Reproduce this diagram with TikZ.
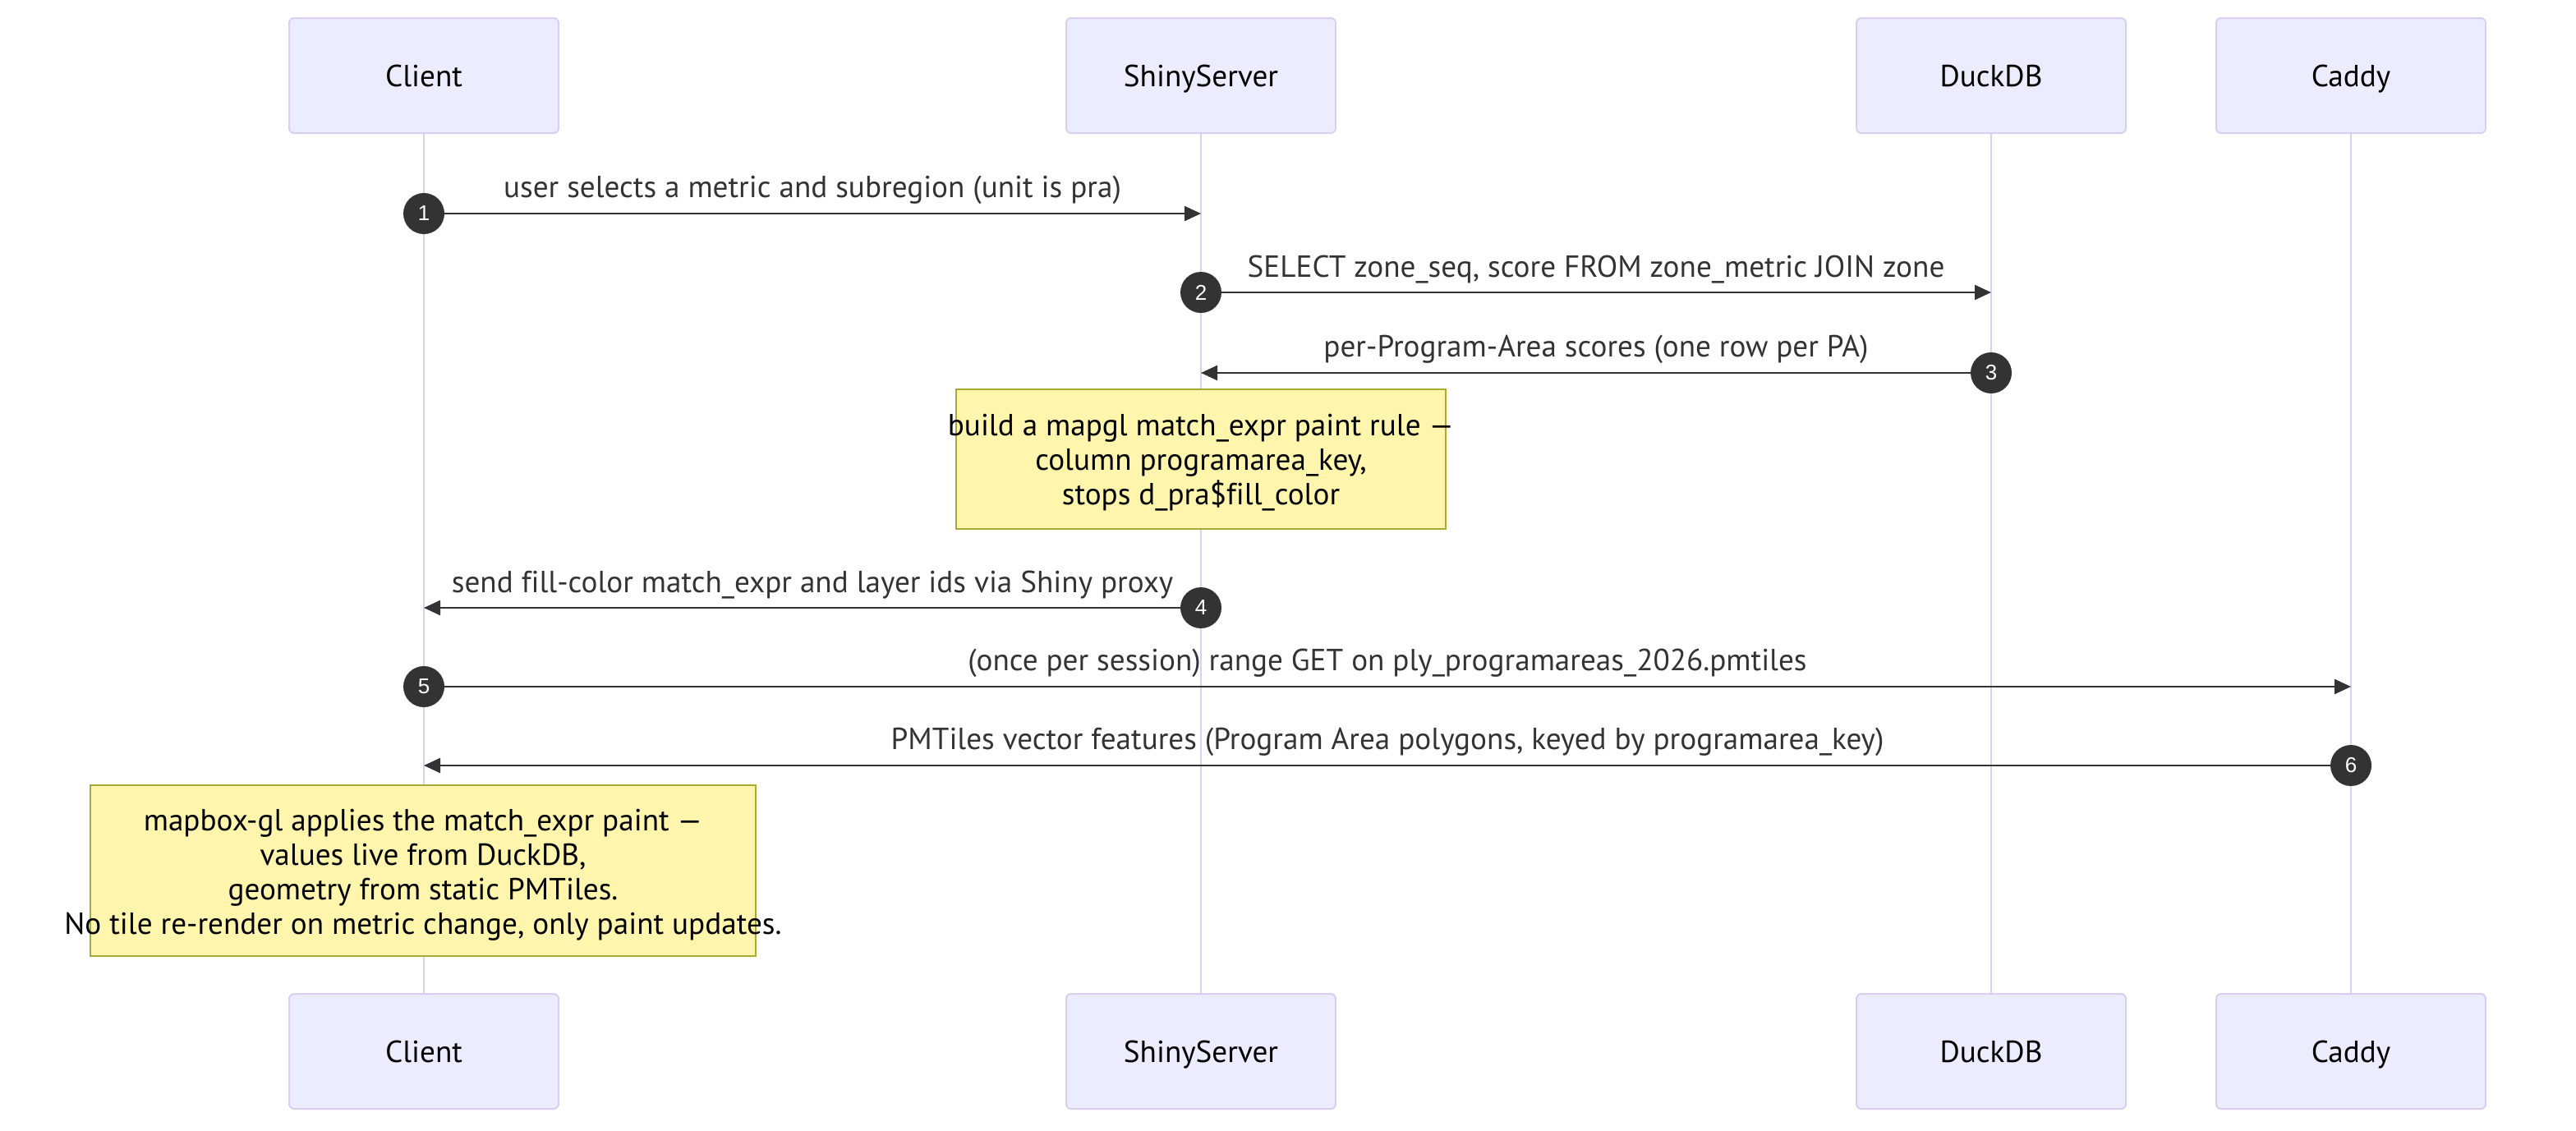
\documentclass[tikz,border=0pt]{standalone}
\usepackage{fontspec}
\setmainfont{PT Sans}[Ligatures=NoCommon]
\newfontfamily\numfont{Liberation Sans}
\usetikzlibrary{arrows.meta, calc}
\definecolor{actorfill}{HTML}{ECECFF}
\definecolor{actorline}{HTML}{D8CFF2}
\definecolor{notefill}{HTML}{FFF5AD}
\definecolor{noteline}{HTML}{AAAA33}
\definecolor{msgline}{HTML}{333333}

\begin{document}
\begin{tikzpicture}[x=1pt, y=-1pt, font=\fontsize{18.6}{21}\selectfont,
  actor/.style={draw=actorline, line width=1pt, fill=actorfill, rounded corners=3pt,
    minimum width=164pt, minimum height=70pt, text height=14.5pt, text depth=1.5pt},
  life/.style={draw=actorline, line width=1.3pt},
  msg/.style={draw=msgline, line width=1.2pt, -{Triangle[length=10pt, width=9pt]}},
  seqnum/.style={circle, fill=msgline, text=white, inner sep=0pt, minimum size=25pt,
    font=\numfont\fontsize{13}{13}\selectfont},
  lbl/.style={text=msgline},
  note/.style={draw=noteline, line width=1pt, fill=notefill}]
  \useasboundingbox (0,0) rectangle (1568,688);

  % participants, top and bottom
  \node[actor] (client) at (258,46) {Client};
  \node[actor] (shiny) at (731,46) {ShinyServer};
  \node[actor] (duck) at (1212,46) {DuckDB};
  \node[actor] (caddy) at (1431,46) {Caddy};
  \node[actor] (clientb) at (258,640) {Client};
  \node[actor] (shinyb) at (731,640) {ShinyServer};
  \node[actor] (duckb) at (1212,640) {DuckDB};
  \node[actor] (caddyb) at (1431,640) {Caddy};
  \foreach \a in {client, shiny, duck, caddy}{
    \draw[life] (\a) -- (\a b);
  }

  % message end points on the lifelines
  \coordinate (m1a) at (258,130);  \coordinate (m1b) at (731,130);
  \coordinate (m2a) at (731,178);  \coordinate (m2b) at (1212,178);
  \coordinate (m3a) at (1212,227); \coordinate (m3b) at (731,227);
  \coordinate (m4a) at (731,370);  \coordinate (m4b) at (258,370);
  \coordinate (m5a) at (258,418);  \coordinate (m5b) at (1431,418);
  \coordinate (m6a) at (1431,466); \coordinate (m6b) at (258,466);

  \draw[msg] (m1a) -- (m1b) node[lbl, midway, above=1.5pt] {user selects a metric and subregion (unit is pra)};
  \draw[msg] (m2a) -- (m2b) node[lbl, midway, above=1.5pt] {SELECT zone\_seq, score FROM zone\_metric JOIN zone};
  \draw[msg] (m3a) -- (m3b) node[lbl, midway, above=1.5pt] {per-Program-Area scores (one row per PA)};
  \draw[msg] (m4a) -- (m4b) node[lbl, midway, above=1.5pt] {send fill-color match\_expr and layer ids via Shiny proxy};
  \draw[msg] (m5a) -- (m5b) node[lbl, midway, above=1.5pt] {(once per session) range GET on ply\_programareas\_2026.pmtiles};
  \draw[msg] (m6a) -- (m6b) node[lbl, midway, above=1.5pt] {PMTiles vector features (Program Area polygons, keyed by programarea\_key)};

  % sequence numbers
  \foreach \i in {1,...,6}{
    \node[seqnum] (n\i) at (m\i a) {\i};
  }

  % notes
  \node[note, minimum width=298pt, minimum height=85pt,
    label={[align=center, yshift=-2pt]center:build a mapgl match\_expr paint rule —\\column programarea\_key,\\stops d\_pra\$fill\_color}]
    (note1) at (731,279.5) {};
  \node[note, minimum width=405pt, minimum height=104pt,
    label={[align=center, yshift=-2.5pt]center:mapbox-gl applies the match\_expr paint —\\values live from DuckDB,\\geometry from static PMTiles.\\No tile re-render on metric change, only paint updates.}]
    (note2) at (257.5,530) {};
\end{tikzpicture}
\end{document}
